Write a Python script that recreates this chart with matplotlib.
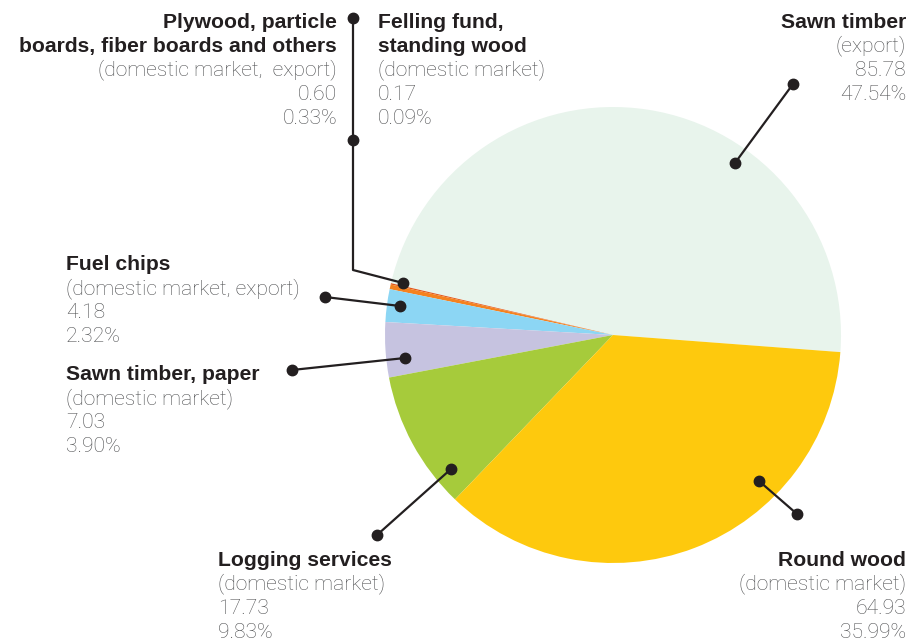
import matplotlib as mpl
mpl.use('Agg')
from matplotlib import pyplot as plt

# data
labels = ["Sawn timber", "Felling fund,\nstanding wood", "Plywood, particle\nboards, fiber boards and others",
          "Fuel chips", "Sawn timber, paper", "Logging services", "Round wood"]
markets = ["(export)", "(domestic market)", "(domestic market,  export)", "(domestic market, export)",
           "(domestic market)", "(domestic market)", "(domestic market)"]
values = [85.78, 0.17, 0.60, 4.18, 7.03, 17.73, 64.93]
shares = ["47.54%", "0.09%", "0.33%", "2.32%", "3.90%", "9.83%", "35.99%"]
colors = ["#e8f4ec", "#e0561c", "#f5821f", "#8cd6f4", "#c6c3e0", "#a6cb3b", "#fec90d"]

W, H = 920, 644
fig = plt.figure(figsize=(W / 100, H / 100), dpi=100)
ax = fig.add_axes([0, 0, 1, 1])

def py(y):
    # pixel row -> data y
    return H - y

ax.pie(values, colors=colors, startangle=-4.3, counterclock=True,
       center=(613, py(335)), radius=228, frame=True,
       wedgeprops=dict(linewidth=0))
ax.set_xlim(0, W)
ax.set_ylim(0, H)
ax.set_aspect('equal')
ax.axis('off')

dark = "#231f20"
grey = "#4f5052"
fs = 15.2

def label(x, y, idx, ha):
    name = labels[idx].split("\n")
    lines = [(t, True) for t in name] + [(markets[idx], False), (f"{values[idx]:.2f}", False), (shares[idx], False)]
    for k, (t, bold) in enumerate(lines):
        ax.text(x, py(y + 24 * k), t, ha=ha, va='center', fontsize=fs,
                fontweight='bold' if bold else 'light',
                color=dark if bold else grey, family='Liberation Sans' if bold else 'Roboto')

label(906, 22, 0, 'right')
label(378, 22, 1, 'left')
label(337, 22, 2, 'right')
label(66, 265, 3, 'left')
label(66, 375, 4, 'left')
label(218, 560, 5, 'left')
label(906, 560, 6, 'right')

def leader(pts, dots):
    xs = [p[0] for p in pts]
    ys = [py(p[1]) for p in pts]
    ax.plot(xs, ys, color=dark, lw=1.6, solid_capstyle='round')
    for d in dots:
        ax.plot(d[0], py(d[1]), 'o', color=dark, ms=7.5)

leader([(735, 163), (793, 84)], [(735, 163), (793, 84)])
leader([(759, 481), (797, 514)], [(759, 481), (797, 514)])
leader([(451, 469), (377, 535)], [(451, 469), (377, 535)])
leader([(405, 358), (292, 370)], [(405, 358), (292, 370)])
leader([(400, 306), (325, 297)], [(400, 306), (325, 297)])
leader([(353, 18), (353, 270), (403, 283)], [(353, 18), (353, 140), (403, 283)])

fig.savefig('out.png', dpi=100)
